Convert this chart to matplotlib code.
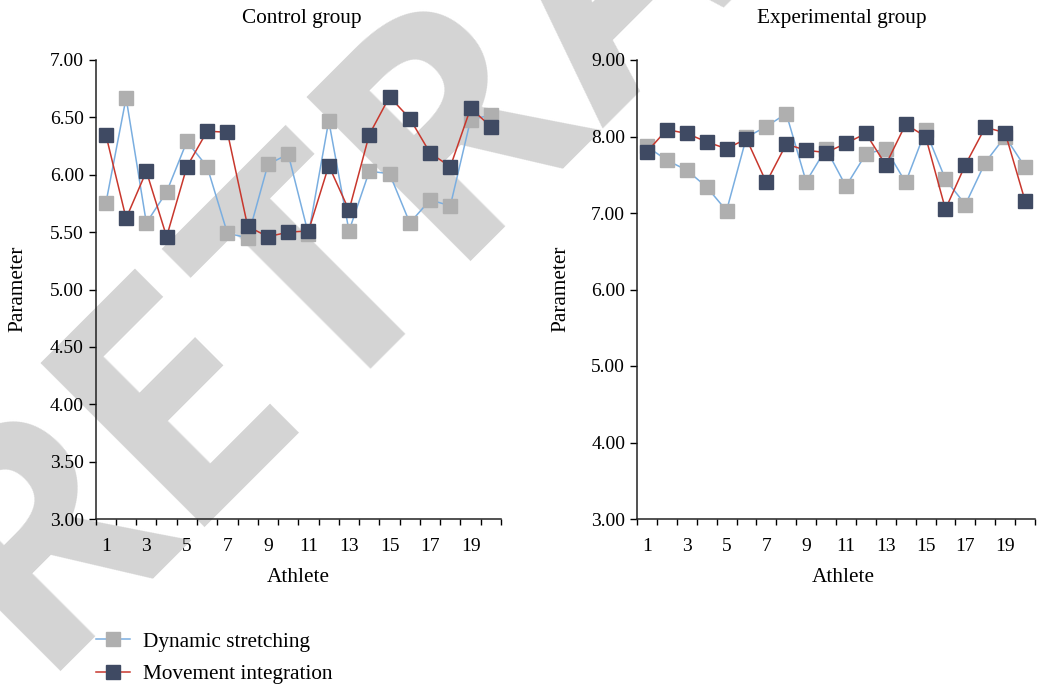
import numpy as np
import matplotlib.pyplot as plt

plt.rcParams['font.family'] = ['Liberation Serif', 'DejaVu Serif']

# Athlete index and measured parameter per group
athletes = np.arange(1, 21)
x_tick_labels = ['1', '3', '5', '7', '9', '11', '13', '15', '17', '19']

control_dynamic = [5.75, 6.67, 5.58, 5.85, 6.29, 6.07, 5.49, 5.45, 6.09, 6.18,
                   5.48, 6.47, 5.51, 6.03, 6.01, 5.58, 5.78, 5.73, 6.48, 6.52]
control_movement = [6.35, 5.62, 6.03, 5.46, 6.07, 6.38, 6.37, 5.55, 5.46, 5.50,
                    5.51, 6.08, 5.69, 6.35, 6.68, 6.49, 6.19, 6.07, 6.58, 6.42]

exp_dynamic = [7.87, 7.69, 7.56, 7.34, 7.03, 7.99, 8.13, 8.30, 7.41, 7.84,
               7.35, 7.77, 7.84, 7.40, 8.08, 7.44, 7.11, 7.66, 8.00, 7.60]
exp_movement = [7.80, 8.09, 8.04, 7.93, 7.84, 7.97, 7.40, 7.90, 7.82, 7.79,
                7.91, 8.04, 7.63, 8.16, 8.00, 7.05, 7.63, 8.12, 8.05, 7.16]

W, H = 1045, 686
fig = plt.figure(figsize=(W / 100, H / 100), dpi=100)

# diagonal watermark, one letter at a time along a 45 degree baseline
# (u = distance along the baseline, v = offset across it, in pixels)
stamp_letters = list('RETRACTED')
stamp_u = [-345, -157, 28, 235, 448, 665, 865, 1050, 1245]
stamp_v = [-497, -497, -517, -497, -517, -497, -517, -497, -497]
for ch, u, v in zip(stamp_letters, stamp_u, stamp_v):
    px = (u - v) / np.sqrt(2)
    py = -(u + v) / np.sqrt(2)
    fig.text(px / W, 1 - py / H, ch, fontsize=234, fontweight='bold',
             family=['Open Sans', 'DejaVu Sans'], color='#d4d4d4', rotation=45,
             rotation_mode='anchor', ha='center', va='baseline', zorder=-5)

ax1 = fig.add_axes([95.7 / W, 1 - 519 / H, 405.3 / W, 459 / H])
ax2 = fig.add_axes([637 / W, 1 - 519 / H, 398 / W, 459 / H])


def draw(ax, dyn, mov, ylim, ystep):
    ax.set_facecolor('none')
    ax.plot(athletes, dyn, color='#7aaee0', lw=1.1, marker='s', ms=10,
            mfc='#afafaf', mec='#afafaf', label='Dynamic stretching', zorder=3)
    ax.plot(athletes, mov, color='#c8372d', lw=1.1, marker='s', ms=10,
            mfc='#3f4a63', mec='#3f4a63', label='Movement integration', zorder=4)
    ax.set_xlim(0.5, 20.5)
    ax.set_xticks(np.arange(0.5, 21, 1))
    ax.set_xticks(np.arange(1, 20, 2), minor=True)
    ax.set_xticklabels(x_tick_labels, minor=True)
    ax.tick_params(axis='x', which='major', length=4.5, width=1, labelbottom=False)
    ax.tick_params(axis='x', which='minor', length=0, pad=13.5, labelsize=14)
    yt = np.arange(ylim[0], ylim[1] + 0.001, ystep)
    ax.set_ylim(*ylim)
    ax.set_yticks(yt)
    ax.set_yticklabels([f'{v:.2f}' for v in yt])
    ax.tick_params(axis='y', length=5, width=1, pad=3.5, labelsize=14)
    for s in ['top', 'right']:
        ax.spines[s].set_visible(False)
    for s in ['left', 'bottom']:
        ax.spines[s].set_color('#222222')
        ax.spines[s].set_linewidth(1.1)


draw(ax1, control_dynamic, control_movement, (3, 7), 0.5)
draw(ax2, exp_dynamic, exp_movement, (3, 9), 1.0)

fs = 15.3
fig.text(302 / W, 1 - 19 / H, 'Control group', ha='center', va='center', fontsize=fs)
fig.text(842 / W, 1 - 19 / H, 'Experimental group', ha='center', va='center', fontsize=fs)
fig.text(298 / W, 1 - 578 / H, 'Athlete', ha='center', va='center', fontsize=fs)
fig.text(843 / W, 1 - 578 / H, 'Athlete', ha='center', va='center', fontsize=fs)
fig.text(17.5 / W, 1 - 289 / H, 'Parameter', ha='center', va='center',
         rotation=90, fontsize=fs)
fig.text(561 / W, 1 - 289 / H, 'Parameter', ha='center', va='center',
         rotation=90, fontsize=fs)

handles, labels = ax1.get_legend_handles_labels()
fig.legend(handles, labels, loc='center left', bbox_to_anchor=(96 / W, 1 - 658 / H),
           frameon=False, fontsize=fs, handlelength=1.6, handletextpad=0.6,
           labelspacing=0.6, borderpad=0, borderaxespad=0)

fig.savefig('out.png', dpi=100)
